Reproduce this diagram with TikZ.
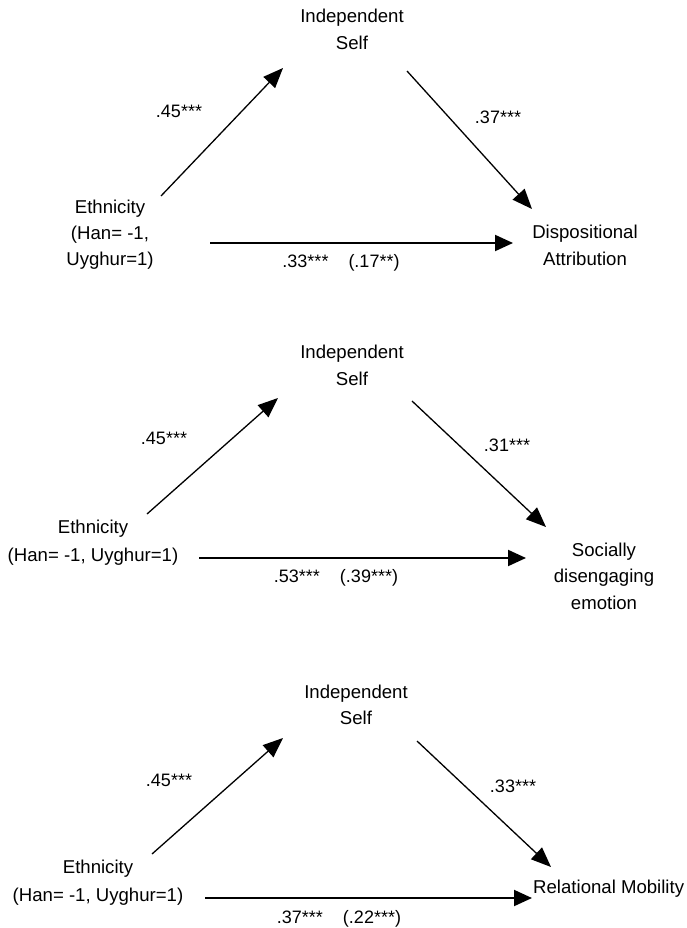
\documentclass[tikz,border=0pt]{standalone}
\usepackage{fontspec}
\setmainfont{Liberation Sans}
\usetikzlibrary{arrows.meta}
\begin{document}
\begin{tikzpicture}[x=1pt,y=-1pt,
  lbl/.style={inner sep=0pt, align=center, font=\fontsize{18.6}{27}\selectfont},
  coef/.style={inner sep=0pt, font=\fontsize{18}{20}\selectfont},
  arr/.style={-{Triangle[length=20pt,width=16pt]}, line width=1.3pt},
  harr/.style={-{Triangle[length=18pt,width=16pt]}, line width=2pt}]
\useasboundingbox[fill=white] (0,0) rectangle (687,928);
% ---------- panel 1 ----------
\node[lbl] (is1) at (352,29) {Independent\\Self};
\node[lbl, font=\fontsize{18.6}{26}\selectfont] (eth1) at (110,235) {Ethnicity\\(Han= -1,\\Uyghur=1)};
\node[lbl] (da1) at (585,245) {Dispositional\\Attribution};
\coordinate (a1s) at (161,196); \coordinate (a1e) at (283,68);
\coordinate (b1s) at (407,71);  \coordinate (b1e) at (532,209);
\coordinate (h1s) at (210,243); \coordinate (h1e) at (513,243);
\draw[arr] (a1s) -- (a1e);
\draw[arr] (b1s) -- (b1e);
\draw[harr] (h1s) -- (h1e);
\node[coef] (c1a) at (179,111) {.45***};
\node[coef] (c1b) at (498,117) {.37***};
\node[coef] (c1c) at (341,263) {.33***\hspace{20pt}(.17**)};
% ---------- panel 2 ----------
\node[lbl] (is2) at (352,365) {Independent\\Self};
\node[lbl, font=\fontsize{18.6}{28}\selectfont] (eth2) at (93,543) {Ethnicity\\(Han= -1, Uyghur=1)};
\node[lbl, font=\fontsize{18.6}{26.5}\selectfont] (sde2) at (604,576) {Socially\\disengaging\\emotion};
\coordinate (a2s) at (147,514); \coordinate (a2e) at (278,398);
\coordinate (b2s) at (412,401); \coordinate (b2e) at (546,527);
\coordinate (h2s) at (199,558); \coordinate (h2e) at (526,558);
\draw[arr] (a2s) -- (a2e);
\draw[arr] (b2s) -- (b2e);
\draw[harr] (h2s) -- (h2e);
\node[coef] (c2a) at (164,438) {.45***};
\node[coef] (c2b) at (507,445) {.31***};
\node[coef] (c2c) at (336,578) {.53***\hspace{20pt}(.39***)};
% ---------- panel 3 ----------
\node[lbl, font=\fontsize{18.6}{26}\selectfont] (is3) at (356,705) {Independent\\Self};
\node[lbl, font=\fontsize{18.6}{28}\selectfont] (eth3) at (98,883) {Ethnicity\\(Han= -1, Uyghur=1)};
\node[lbl, anchor=west] (rm3) at (533,889) {Relational Mobility};
\coordinate (a3s) at (152,854); \coordinate (a3e) at (283,738);
\coordinate (b3s) at (417,741); \coordinate (b3e) at (551,867);
\coordinate (h3s) at (205,898); \coordinate (h3e) at (532,898);
\draw[arr] (a3s) -- (a3e);
\draw[arr] (b3s) -- (b3e);
\draw[harr] (h3s) -- (h3e);
\node[coef] (c3a) at (169,780) {.45***};
\node[coef] (c3b) at (513,786) {.33***};
\node[coef] (c3c) at (339,919) {.37***\hspace{20pt}(.22***)};
\end{tikzpicture}
\end{document}
